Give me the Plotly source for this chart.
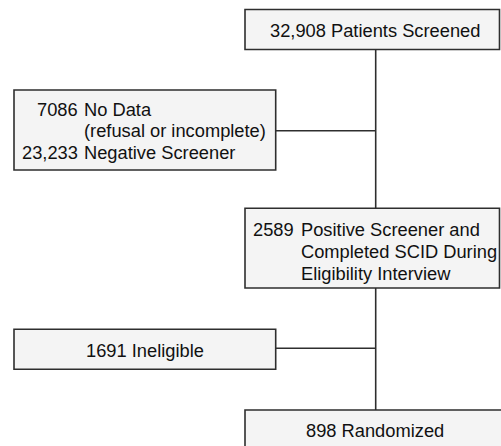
import plotly.graph_objects as go

# ---- data ----
screened_n = "32,908"
screened_label = "Patients Screened"
excluded1_counts = ["7086", "", "23,233"]
excluded1_labels = ["No Data", "(refusal or incomplete)", "Negative Screener"]
eligible_counts = ["2589", "", ""]
eligible_labels = ["Positive Screener and", "Completed SCID During", "Eligibility Interview"]
ineligible_n = "1691"
ineligible_label = "Ineligible"
randomized_n = "898"
randomized_label = "Randomized"

# ---- layout config ----
W, H = 501, 446
FONT = dict(family="Liberation Sans, Arial, sans-serif", size=18.3, color="#111111")
BOX_FILL = "#f4f4f4"
LINE = dict(color="#2e2e2e", width=1.6)
spine_x = 375.7
boxes = {
    "screened": (245, 9.5, 499.5, 49.5),
    "excluded1": (14, 90, 275.7, 170),
    "eligible": (245, 208.3, 499.5, 288),
    "ineligible": (14, 329.3, 275.7, 369.3),
    "randomized": (245, 410, 520, 470),
}

fig = go.Figure()
shapes = []
shapes.append(dict(type="line", x0=spine_x, x1=spine_x, y0=49.5, y1=208.3, line=LINE, layer="above"))
shapes.append(dict(type="line", x0=spine_x, x1=spine_x, y0=288, y1=410, line=LINE, layer="above"))
shapes.append(dict(type="line", x0=275.7, x1=spine_x, y0=130.7, y1=130.7, line=LINE, layer="above"))
shapes.append(dict(type="line", x0=275.7, x1=spine_x, y0=348.3, y1=348.3, line=LINE, layer="above"))
for k, (x0, y0, x1, y1) in boxes.items():
    shapes.append(dict(type="rect", x0=x0, y0=y0, x1=x1, y1=y1, fillcolor=BOX_FILL, line=LINE, layer="above"))

ann = []
def add(text, x, y, anchor):
    ann.append(dict(text=text, x=x, y=y, xref="x", yref="y", xanchor=anchor, yanchor="middle",
                    showarrow=False, font=FONT, borderpad=0, borderwidth=0))

add(f"{screened_n} {screened_label}", 375, 30.5, "center")
ys1 = [109.5, 130.8, 152]
for c, l, y in zip(excluded1_counts, excluded1_labels, ys1):
    if c:
        add(c, 77.5, y, "right")
    add(l, 84.3, y, "left")
ys3 = [229.6, 251.3, 273]
for c, l, y in zip(eligible_counts, eligible_labels, ys3):
    if c:
        add(c, 293.5, y, "right")
    add(l, 300.7, y, "left")
add(f"{ineligible_n} {ineligible_label}", 145, 350.5, "center")
add(f"{randomized_n} {randomized_label}", 375, 430.5, "center")

fig.update_layout(
    width=W, height=H, margin=dict(l=0, r=0, t=0, b=0),
    paper_bgcolor="white", plot_bgcolor="white",
    xaxis=dict(range=[0, W], visible=False, fixedrange=True),
    yaxis=dict(range=[H, 0], visible=False, fixedrange=True),
    shapes=shapes, annotations=ann, showlegend=False,
)
fig.write_html("out.html", config={"displayModeBar": False},
               post_script="document.body.style.margin='0';document.body.style.overflow='hidden';")
